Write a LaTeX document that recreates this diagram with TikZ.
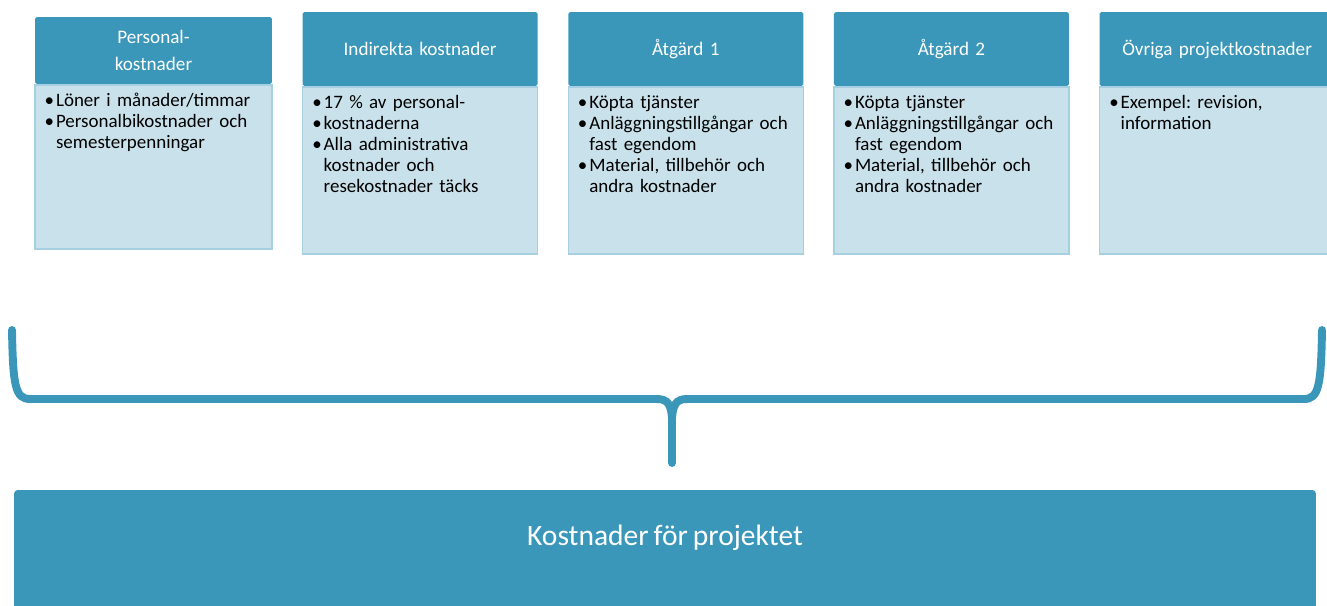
\documentclass[tikz,border=0pt]{standalone}
\usepackage{fontspec}
\setmainfont{Carlito}[WordSpace=0.75]
\usetikzlibrary{positioning}
\frenchspacing
\definecolor{kblue}{HTML}{3A97BA}
\definecolor{kpale}{HTML}{C9E1EA}
\definecolor{kedge}{HTML}{A6CFE1}
% one bullet point with hanging indent
\newcommand\kpunkt[1]{\hangindent=0.6em\hangafter=1\noindent\makebox[0.6em][l]{\textbullet}#1\par}
\tikzset{
    %Define style for box headers
    rubrik/.style={
           rectangle,
           rounded corners=1pt,
           fill=kblue,
           text=white,
           minimum width=4.7cm,
           text width=4.4cm,
           minimum height=1.48cm,
           align=center,
           font=\fontsize{10.9}{15.5}\selectfont},
    %Define style for box bodies
    kropp/.style={
           rectangle,
           fill=kpale,
           draw=kedge, thick,
           minimum width=4.7cm,
           minimum height=3.34cm},
    % Define style for bullet text
    punkter/.style={
           anchor=north west,
           text width=4.45cm,
           align=left,
           inner sep=0pt,
           font=\fontsize{10.8}{12}\selectfont},
    % Define brace style
    klammer/.style={
           draw=kblue,
           line width=4.5pt,
           line cap=round}
}
\begin{document}
\begin{tikzpicture}[x=0.02cm, y=-0.02cm]
    \useasboundingbox (0,0) rectangle (1327,605);
    % headers
    \node[rubrik, minimum width=4.74cm, minimum height=1.34cm] (hdr1) at (153.5,50.5) {Personal-\\kostnader};
    \node[rubrik, right=0.6cm of hdr1, yshift=0.03cm] (hdr2) {Indirekta kostnader};
    \node[rubrik, right=0.6cm of hdr2] (hdr3) {Åtgärd 1};
    \node[rubrik, right=0.6cm of hdr3] (hdr4) {Åtgärd 2};
    \node[rubrik, right=0.6cm of hdr4] (hdr5) {Övriga projektkostnader};
    % bodies
    \node[kropp, minimum width=4.74cm, minimum height=3.28cm, below=0pt of hdr1] (body1) {};
    \node[kropp, below=0pt of hdr2] (body2) {};
    \node[kropp, below=0pt of hdr3] (body3) {};
    \node[kropp, below=0pt of hdr4] (body4) {};
    \node[kropp, below=0pt of hdr5] (body5) {};
    % bullet texts
    \node[punkter] (txt1) at ([xshift=0.2cm, yshift=-0.17cm]body1.north west)
      {\kpunkt{Löner i månader/timmar}\kpunkt{Personalbikostnader och\newline semesterpenningar}};
    \node[punkter] (txt2) at ([xshift=0.2cm, yshift=-0.17cm]body2.north west)
      {\kpunkt{17 \% av personal-}\kpunkt{kostnaderna}\kpunkt{Alla administrativa\newline kostnader och\newline resekostnader täcks}};
    \node[punkter] (txt3) at ([xshift=0.2cm, yshift=-0.17cm]body3.north west)
      {\kpunkt{Köpta tjänster}\kpunkt{Anläggningstillgångar och\newline fast egendom}\kpunkt{Material, tillbehör och\newline andra kostnader}};
    \node[punkter] (txt4) at ([xshift=0.2cm, yshift=-0.17cm]body4.north west)
      {\kpunkt{Köpta tjänster}\kpunkt{Anläggningstillgångar och\newline fast egendom}\kpunkt{Material, tillbehör och\newline andra kostnader}};
    \node[punkter] (txt5) at ([xshift=0.2cm, yshift=-0.17cm]body5.north west)
      {\kpunkt{Exempel: revision,\newline information}};
    % total box
    \node[rectangle, rounded corners=2pt, fill=kblue, text=white,
          minimum width=26.04cm, minimum height=2.6cm, text depth=0.8cm,
          font=\fontsize{16.8}{19}\selectfont] (total) at (665,555) {Kostnader för projektet};
    % brace
    \coordinate (tip) at (672,463);
    \draw[klammer] (12,330) .. controls (13,385) and (15,399) .. (30,399) -- (657,399)
      .. controls (668,399) and (671,405) .. (672,418) -- (tip);
    \draw[klammer] (1322,330) .. controls (1321,385) and (1319,399) .. (1304,399) -- (687,399)
      .. controls (676,399) and (673,405) .. (672,418);
\end{tikzpicture}
\end{document}
